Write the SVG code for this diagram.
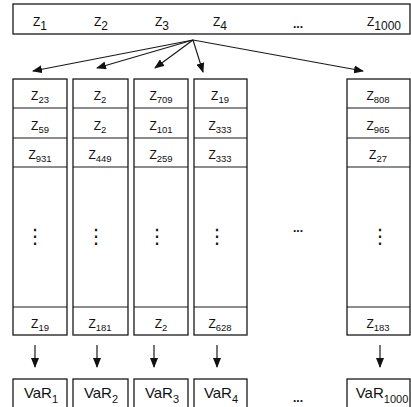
<svg xmlns="http://www.w3.org/2000/svg" width="411" height="407" viewBox="0 0 411 407">
<style>
.box{fill:#fff;stroke:#1a1a1a;stroke-width:1.3}
.ln{stroke:#1a1a1a;stroke-width:1.2;fill:none}
text{font-family:"Liberation Sans",Arial,sans-serif;fill:#111}
.t{font-size:12px}
.c{font-size:12px;text-anchor:middle}
.s{font-size:9.5px}
.v{font-size:15px;text-anchor:middle}
.vs{font-size:11px}
.d{font-family:"DejaVu Sans",sans-serif;font-size:20px;text-anchor:middle}
.e{font-size:12px;text-anchor:middle;font-weight:bold}
</style>
<defs>
<marker id="ah" markerUnits="userSpaceOnUse" markerWidth="10" markerHeight="8" refX="9" refY="4" orient="auto">
<path d="M0,0 L10,4 L0,8 Z" fill="#111"/>
</marker>
</defs>
<g id="top">
<rect class="box" x="13" y="4" width="397" height="30"/>
<text class="t" x="33" y="26">Z<tspan dy="4">1</tspan></text>
<text class="t" x="94" y="26">Z<tspan dy="4">2</tspan></text>
<text class="t" x="155" y="26">Z<tspan dy="4">3</tspan></text>
<text class="t" x="213" y="26">Z<tspan dy="4">4</tspan></text>
<text class="e" x="298" y="28">...</text>
<text class="t" x="367" y="26">Z<tspan dy="4">1000</tspan></text>
</g>
<g id="connectors">
<line class="ln" x1="193" y1="40" x2="33" y2="71" marker-end="url(#ah)"/>
<line class="ln" x1="193" y1="40" x2="97" y2="68" marker-end="url(#ah)"/>
<line class="ln" x1="193" y1="40" x2="155" y2="68" marker-end="url(#ah)"/>
<line class="ln" x1="193" y1="40" x2="203" y2="72" marker-end="url(#ah)"/>
<line class="ln" x1="193" y1="40" x2="363" y2="71" marker-end="url(#ah)"/>
<line class="ln" x1="35" y1="345" x2="35" y2="367" marker-end="url(#ah)"/>
<line class="ln" x1="97" y1="345" x2="97" y2="367" marker-end="url(#ah)"/>
<line class="ln" x1="154" y1="345" x2="154" y2="367" marker-end="url(#ah)"/>
<line class="ln" x1="217" y1="345" x2="217" y2="367" marker-end="url(#ah)"/>
<line class="ln" x1="380" y1="345" x2="380" y2="367" marker-end="url(#ah)"/>
</g>
<g id="col1">
<rect class="box" x="13" y="79" width="54" height="256"/>
<path class="ln" d="M13,108H67M13,138H67M13,167H67M13,307H67"/>
<text class="c" x="40" y="100">Z<tspan class="s" dy="3">23</tspan></text>
<text class="c" x="40" y="130">Z<tspan class="s" dy="3">59</tspan></text>
<text class="c" x="40" y="159">Z<tspan class="s" dy="3">931</tspan></text>
<text class="d" x="35" y="243">⋮</text>
<text class="c" x="40" y="328">Z<tspan class="s" dy="3">19</tspan></text>
</g>
<g id="col2">
<rect class="box" x="73" y="79" width="55" height="256"/>
<path class="ln" d="M73,108H128M73,138H128M73,167H128M73,307H128"/>
<text class="c" x="100" y="100">Z<tspan class="s" dy="3">2</tspan></text>
<text class="c" x="100" y="130">Z<tspan class="s" dy="3">2</tspan></text>
<text class="c" x="100" y="159">Z<tspan class="s" dy="3">449</tspan></text>
<text class="d" x="96" y="243">⋮</text>
<text class="c" x="100" y="328">Z<tspan class="s" dy="3">181</tspan></text>
</g>
<g id="col3">
<rect class="box" x="134" y="79" width="54" height="256"/>
<path class="ln" d="M134,108H188M134,138H188M134,167H188M134,307H188"/>
<text class="c" x="161" y="100">Z<tspan class="s" dy="3">709</tspan></text>
<text class="c" x="161" y="130">Z<tspan class="s" dy="3">101</tspan></text>
<text class="c" x="161" y="159">Z<tspan class="s" dy="3">259</tspan></text>
<text class="d" x="157" y="243">⋮</text>
<text class="c" x="161" y="328">Z<tspan class="s" dy="3">2</tspan></text>
</g>
<g id="col4">
<rect class="box" x="194" y="79" width="53" height="256"/>
<path class="ln" d="M194,108H247M194,138H247M194,167H247M194,307H247"/>
<text class="c" x="220" y="100">Z<tspan class="s" dy="3">19</tspan></text>
<text class="c" x="220" y="130">Z<tspan class="s" dy="3">333</tspan></text>
<text class="c" x="220" y="159">Z<tspan class="s" dy="3">333</tspan></text>
<text class="d" x="217" y="243">⋮</text>
<text class="c" x="220" y="328">Z<tspan class="s" dy="3">628</tspan></text>
</g>
<g id="gap">
<text class="e" x="298" y="232">...</text>
<text class="e" x="298" y="402">...</text>
</g>
<g id="col5">
<rect class="box" x="347" y="79" width="63" height="256"/>
<path class="ln" d="M347,108H410M347,138H410M347,167H410M347,307H410"/>
<text class="c" x="378" y="100">Z<tspan class="s" dy="3">808</tspan></text>
<text class="c" x="378" y="130">Z<tspan class="s" dy="3">965</tspan></text>
<text class="c" x="378" y="159">Z<tspan class="s" dy="3">27</tspan></text>
<text class="d" x="380" y="243">⋮</text>
<text class="c" x="378" y="328">Z<tspan class="s" dy="3">183</tspan></text>
</g>
<g id="var1"><rect class="box" x="13" y="379" width="54" height="30"/><text class="v" x="41" y="398">VaR<tspan class="vs" dy="5">1</tspan></text></g>
<g id="var2"><rect class="box" x="73" y="379" width="55" height="30"/><text class="v" x="101" y="398">VaR<tspan class="vs" dy="5">2</tspan></text></g>
<g id="var3"><rect class="box" x="134" y="379" width="54" height="30"/><text class="v" x="162" y="398">VaR<tspan class="vs" dy="5">3</tspan></text></g>
<g id="var4"><rect class="box" x="194" y="379" width="53" height="30"/><text class="v" x="221" y="398">VaR<tspan class="vs" dy="5">4</tspan></text></g>
<g id="var1000"><rect class="box" x="347" y="379" width="63" height="30"/><text class="v" x="382" y="398">VaR<tspan class="vs" dy="5">1000</tspan></text></g>
</svg>
